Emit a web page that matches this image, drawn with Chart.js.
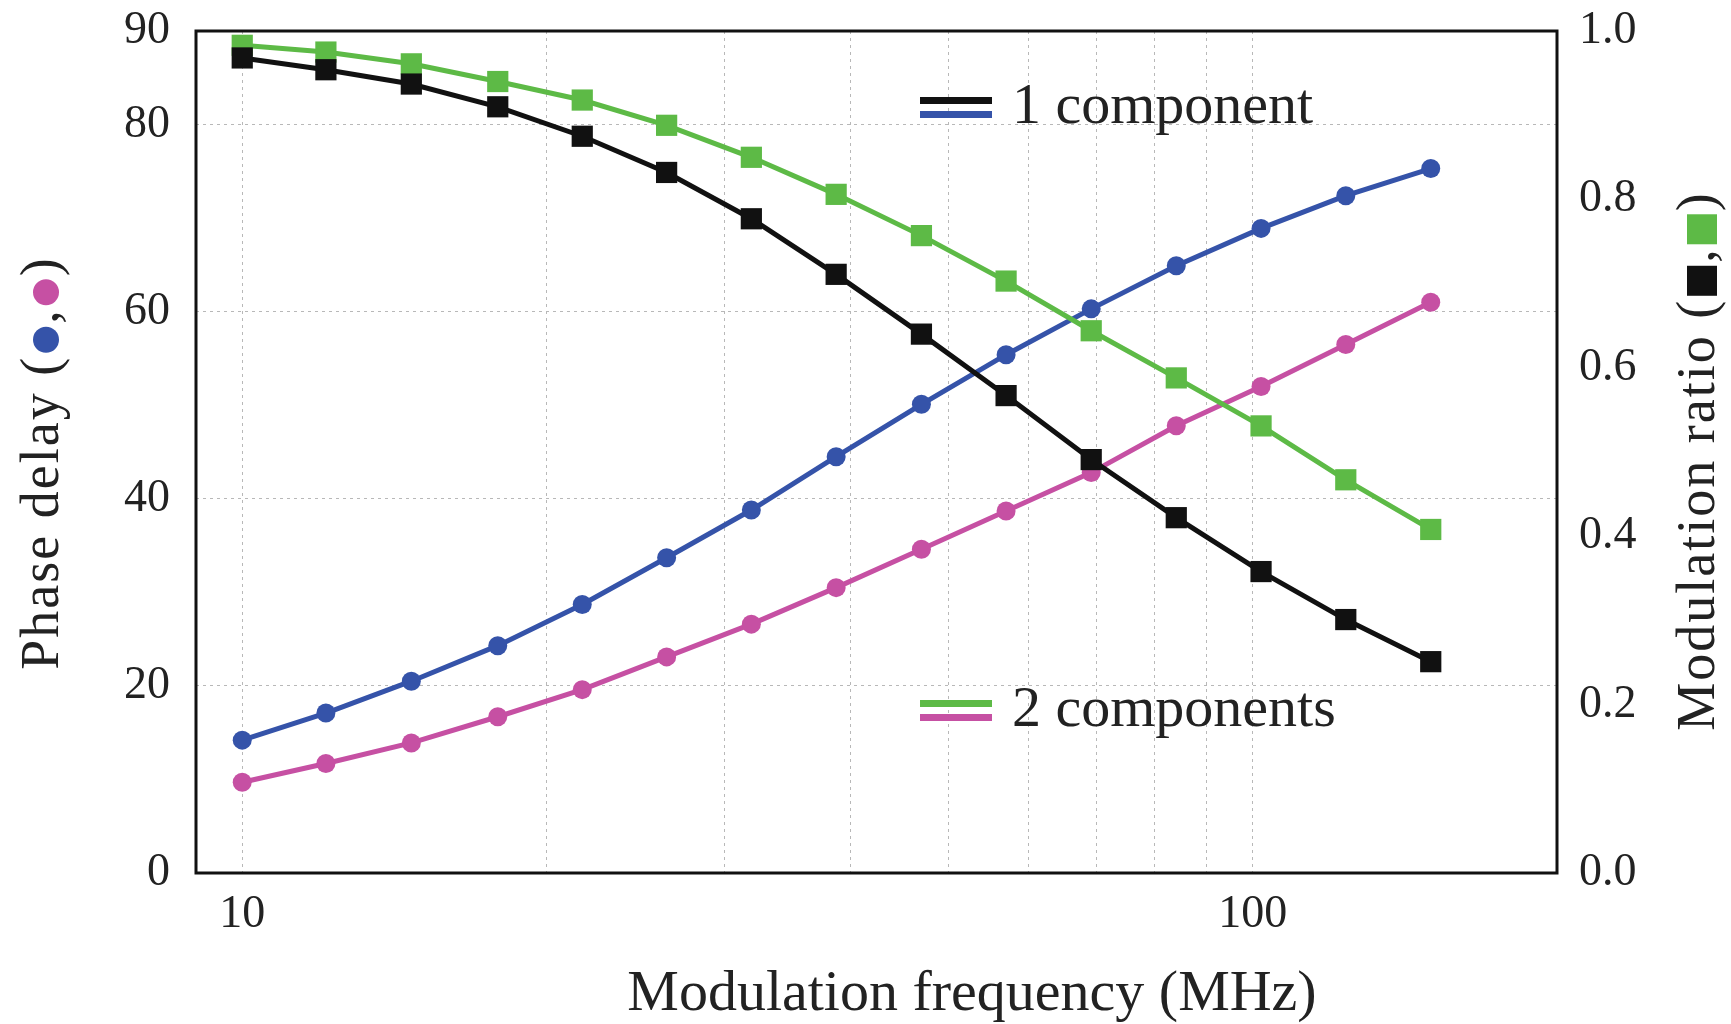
<!DOCTYPE html>
<html lang="en">
<head>
    <meta charset="UTF-8">
    <title>Phase delay and modulation ratio vs modulation frequency</title>
    <script src="https://cdn.jsdelivr.net/npm/chart.js"></script>
    <style>
        html, body {
            margin: 0;
            padding: 0;
            background: #fff;
        }

        .grafico-container {
            width: 1731px;
            height: 1024px;
            position: relative;
        }
    </style>
</head>
<body>
    <div class="grafico-container">
        <canvas id="grafico"></canvas>
    </div>

    <script>
        // modulation frequency (MHz)
        const frequencies = [10, 12.1, 14.7, 17.9, 21.7, 26.3, 31.9, 38.7, 47.0, 57.0, 69.2, 84.0, 101.9, 123.6, 150];

        // phase delay (degrees), left axis
        const phaseOneComp = [14.2, 17.1, 20.5, 24.3, 28.7, 33.7, 38.8, 44.5, 50.1, 55.4, 60.3, 64.9, 68.9, 72.4, 75.3];
        const phaseTwoComp = [9.7, 11.7, 13.9, 16.7, 19.6, 23.1, 26.6, 30.5, 34.6, 38.7, 42.8, 47.8, 52.0, 56.5, 61.0];

        // modulation ratio, right axis
        const modOneComp = [0.968, 0.954, 0.937, 0.910, 0.875, 0.832, 0.777, 0.711, 0.640, 0.567, 0.491, 0.422, 0.358, 0.301, 0.251];
        const modTwoComp = [0.983, 0.975, 0.961, 0.940, 0.918, 0.888, 0.850, 0.806, 0.757, 0.703, 0.644, 0.588, 0.531, 0.467, 0.408];

        // axis ticks
        const xGridValues = [10, 20, 30, 40, 50, 60, 70, 80, 90, 100, 200];
        const xTickLabels = [10, 100];
        const phaseTicks = [0, 20, 40, 60, 80, 90];
        const ratioTicks = [0, 0.2, 0.4, 0.6, 0.8, 1.0];

        const cores = {
            black: '#111111',
            green: '#5dba46',
            blue: '#3553a9',
            pink: '#c650a3'
        };

        const fonte = 'Liberation Serif, Times New Roman, serif';
        const gridColor = '#b8b8b8';

        const toPoints = vals => vals.map((v, i) => ({ x: frequencies[i], y: v }));

        // frame around the plot area
        const framePlugin = {
            id: 'frame',
            afterDraw(chart) {
                const { ctx, chartArea: a } = chart;
                ctx.save();
                ctx.strokeStyle = '#111';
                ctx.lineWidth = 3;
                ctx.strokeRect(a.left, a.top, a.right - a.left, a.bottom - a.top);
                ctx.restore();
            }
        };

        // rotated axis titles with coloured markers inline
        function drawVerticalTitle(ctx, parts, cx, cy, font, spacing) {
            ctx.save();
            ctx.font = font;
            ctx.letterSpacing = spacing + 'px';
            let total = 0;
            parts.forEach(p => {
                p.w = p.text != null ? ctx.measureText(p.text).width : p.size + 6;
                total += p.w;
            });
            ctx.translate(cx, cy);
            ctx.rotate(-Math.PI / 2);
            ctx.textBaseline = 'middle';
            let x = -total / 2;
            parts.forEach(p => {
                if (p.text != null) {
                    ctx.fillStyle = '#222';
                    ctx.fillText(p.text, x, 0);
                } else if (p.shape === 'circle') {
                    ctx.fillStyle = p.color;
                    ctx.beginPath();
                    ctx.arc(x + p.w / 2, 2, p.size / 2, 0, Math.PI * 2);
                    ctx.fill();
                } else {
                    ctx.fillStyle = p.color;
                    ctx.fillRect(x + p.w / 2 - p.size / 2, 2 - p.size / 2, p.size, p.size);
                }
                x += p.w;
            });
            ctx.restore();
        }

        const titlesPlugin = {
            id: 'titles',
            afterDraw(chart) {
                const { ctx } = chart;

                drawVerticalTitle(ctx, [
                    { text: 'Phase delay (' },
                    { shape: 'circle', color: cores.blue, size: 26 },
                    { text: ',' },
                    { shape: 'circle', color: cores.pink, size: 26 },
                    { text: ')' }
                ], 44, 463, '54px ' + fonte, 2);

                drawVerticalTitle(ctx, [
                    { text: 'Modulation ratio (' },
                    { shape: 'rect', color: cores.black, size: 30 },
                    { text: ',' },
                    { shape: 'rect', color: cores.green, size: 30 },
                    { text: ')' }
                ], 1700, 461, '54px ' + fonte, 2);

                // x title
                ctx.save();
                ctx.font = '58px ' + fonte;
                ctx.fillStyle = '#222';
                ctx.textAlign = 'center';
                ctx.textBaseline = 'alphabetic';
                ctx.fillText('Modulation frequency (MHz)', 972, 1010);
                ctx.restore();
            }
        };

        // legend with double-line swatches
        const legendPlugin = {
            id: 'legendaDupla',
            afterDraw(chart) {
                const { ctx, chartArea: a } = chart;
                const entries = [
                    { label: '1 component', top: cores.black, bottom: cores.blue, y: a.top + 66 },
                    { label: '2 components', top: cores.green, bottom: cores.pink, y: a.top + 669 }
                ];
                const x0 = a.left + 724;
                ctx.save();
                entries.forEach(e => {
                    ctx.fillStyle = e.top;
                    ctx.fillRect(x0, e.y, 72, 7);
                    ctx.fillStyle = e.bottom;
                    ctx.fillRect(x0, e.y + 14, 72, 7);
                    ctx.font = '58px ' + fonte;
                    ctx.fillStyle = '#222';
                    ctx.textBaseline = 'alphabetic';
                    ctx.fillText(e.label, x0 + 92, e.y + 26);
                });
                ctx.restore();
            }
        };

        // keep the vertical axes from pushing the plot area down
        const fitVertical = width => s => {
            s.width = width;
            s.paddingTop = 0;
            s.paddingBottom = 0;
        };

        const ctx = document.getElementById('grafico').getContext('2d');

        new Chart(ctx, {
            type: 'line',
            data: {
                datasets: [
                    {
                        label: 'Modulation ratio, 1 component',
                        data: toPoints(modOneComp),
                        yAxisID: 'yRatio',
                        borderColor: cores.black,
                        backgroundColor: cores.black,
                        borderWidth: 5,
                        pointStyle: 'rect',
                        pointRadius: 15,
                        pointBorderWidth: 0
                    },
                    {
                        label: 'Modulation ratio, 2 components',
                        data: toPoints(modTwoComp),
                        yAxisID: 'yRatio',
                        borderColor: cores.green,
                        backgroundColor: cores.green,
                        borderWidth: 5,
                        pointStyle: 'rect',
                        pointRadius: 15,
                        pointBorderWidth: 0
                    },
                    {
                        label: 'Phase delay, 1 component',
                        data: toPoints(phaseOneComp),
                        yAxisID: 'yPhase',
                        borderColor: cores.blue,
                        backgroundColor: cores.blue,
                        borderWidth: 5,
                        pointStyle: 'circle',
                        pointRadius: 9.5,
                        pointBorderWidth: 0
                    },
                    {
                        label: 'Phase delay, 2 components',
                        data: toPoints(phaseTwoComp),
                        yAxisID: 'yPhase',
                        borderColor: cores.pink,
                        backgroundColor: cores.pink,
                        borderWidth: 5,
                        pointStyle: 'circle',
                        pointRadius: 9.5,
                        pointBorderWidth: 0
                    }
                ]
            },
            options: {
                responsive: true,
                maintainAspectRatio: false,
                animation: false,
                layout: { padding: { top: 31, left: 0, right: 0, bottom: 0 } },
                plugins: {
                    legend: { display: false },
                    tooltip: { enabled: false }
                },
                elements: { line: { tension: 0 } },
                scales: {
                    x: {
                        type: 'logarithmic',
                        position: 'bottom',
                        min: 9,
                        max: 200,
                        afterBuildTicks: s => { s.ticks = xGridValues.map(v => ({ value: v })); },
                        afterFit: s => { s.height = 151; },
                        ticks: {
                            autoSkip: false,
                            maxRotation: 0,
                            padding: 14,
                            color: '#222',
                            font: { family: fonte, size: 46 },
                            callback: v => xTickLabels.includes(v) ? String(v) : ''
                        },
                        grid: { color: gridColor, lineWidth: 1, drawTicks: false },
                        border: { display: false, dash: [3, 4] }
                    },
                    yPhase: {
                        type: 'linear',
                        position: 'left',
                        min: 0,
                        max: 90,
                        afterBuildTicks: s => { s.ticks = phaseTicks.map(v => ({ value: v })); },
                        afterFit: fitVertical(196),
                        ticks: {
                            padding: 26,
                            color: '#222',
                            font: { family: fonte, size: 46 }
                        },
                        grid: {
                            color: c => (c.tick && (c.tick.value === 0 || c.tick.value === 90)) ? 'rgba(0,0,0,0)' : gridColor,
                            lineWidth: 1,
                            drawTicks: false
                        },
                        border: { display: false, dash: [3, 4] }
                    },
                    yRatio: {
                        type: 'linear',
                        position: 'right',
                        min: 0,
                        max: 1,
                        afterBuildTicks: s => { s.ticks = ratioTicks.map(v => ({ value: v })); },
                        afterFit: fitVertical(174),
                        ticks: {
                            padding: 22,
                            color: '#222',
                            font: { family: fonte, size: 46 },
                            callback: v => Number(v).toFixed(1)
                        },
                        grid: { display: false, drawTicks: false },
                        border: { display: false }
                    }
                }
            },
            plugins: [framePlugin, titlesPlugin, legendPlugin]
        });
    </script>
</body>
</html>
